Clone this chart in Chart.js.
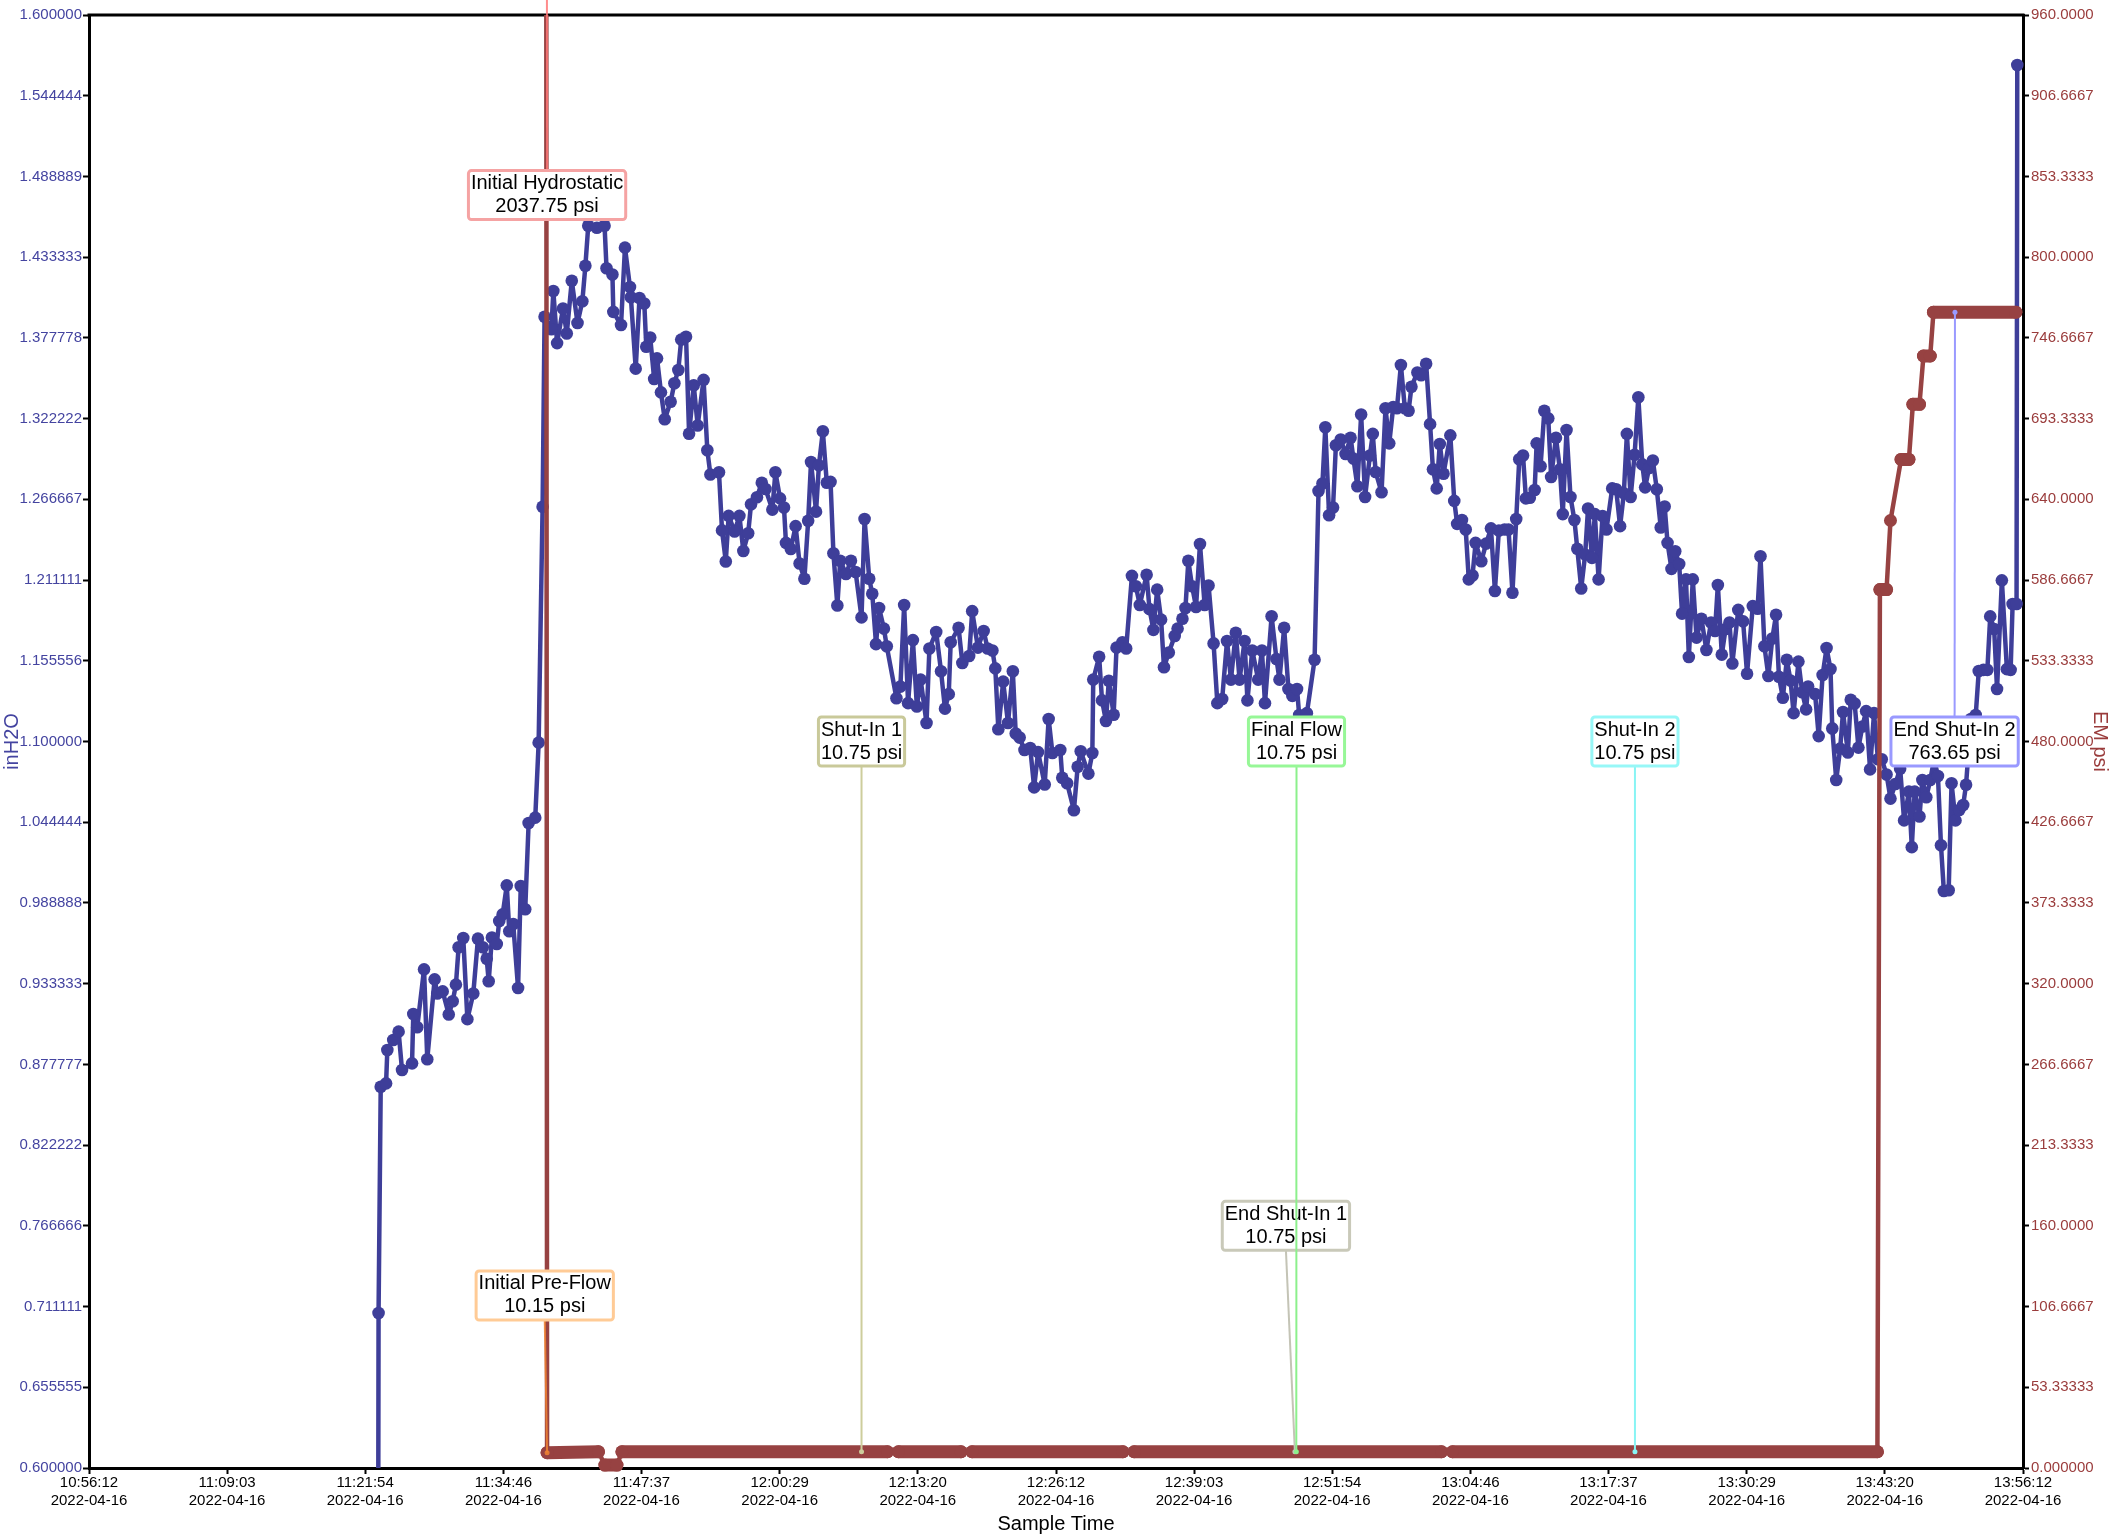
<!DOCTYPE html>
<html>
<head>
<meta charset="utf-8">
<title>Sample Time</title>
<script src="https://cdn.jsdelivr.net/npm/chart.js@4.4.1/dist/chart.umd.min.js"></script>
<style>
  html, body { margin: 0; padding: 0; background: #fff; }
  #wrap { width: 2112px; height: 1536px; }
</style>
</head>
<body>
<div id="wrap"><canvas id="chart"></canvas></div>
<script>
// x values are seconds after the first tick (10:56:12)
var startClock = "10:56:12";
var dateText = "2022-04-16";
var timeTicks = ["10:56:12", "11:09:03", "11:21:54", "11:34:46", "11:47:37", "12:00:29", "12:13:20", "12:26:12",
                 "12:39:03", "12:51:54", "13:04:46", "13:17:37", "13:30:29", "13:43:20", "13:56:12"];
var inH2OTicks = ["0.600000", "0.655555", "0.711111", "0.766666", "0.822222", "0.877777", "0.933333", "0.988888",
                  "1.044444", "1.100000", "1.155556", "1.211111", "1.266667", "1.322222", "1.377778", "1.433333",
                  "1.488889", "1.544444", "1.600000"];
var psiTicks = ["0.000000", "53.33333", "106.6667", "160.0000", "213.3333", "266.6667", "320.0000", "373.3333",
                "426.6667", "480.0000", "533.3333", "586.6667", "640.0000", "693.3333", "746.6667", "800.0000",
                "853.3333", "906.6667", "960.0000"];

// gauge reading, inH2O (left axis)
var gaugeSec = [
  1608, 1617, 1629, 1659, 1666, 1699, 1729, 1748, 1804, 1811,
  1833, 1871, 1889, 1930, 1945, 1975, 2009, 2031, 2049, 2064,
  2090, 2113, 2146, 2172, 2199, 2221, 2232, 2250, 2277, 2291,
  2310, 2333, 2347, 2369, 2396, 2411, 2436, 2455, 2492, 2511,
  2533, 2544,
  2582, 2593, 2614, 2647, 2668, 2696, 2728, 2755, 2772, 2788,
  2836, 2879, 2890, 2923, 2928, 2971, 2993, 3021, 3026, 3053,
  3074, 3101, 3112, 3134, 3156, 3172, 3194, 3215, 3248, 3269,
  3291, 3307, 3334, 3351, 3377, 3399, 3432, 3453, 3470, 3518,
  3535, 3556, 3572, 3605, 3632, 3654, 3681, 3697, 3730, 3757,
  3778, 3816, 3833, 3859, 3881, 3892, 3919, 3946, 3968, 3995,
  4016, 4032, 4060, 4076, 4098, 4120, 4141, 4157, 4179, 4195,
  4227, 4255, 4281, 4314, 4331, 4357, 4374, 4395, 4412, 4439,
  4455, 4509, 4531, 4552, 4574, 4601, 4623, 4644, 4677, 4693,
  4731, 4758, 4780, 4801, 4812, 4856, 4877, 4915, 4932, 4964,
  4996, 5018, 5045, 5061, 5078, 5105, 5132, 5159, 5175, 5197,
  5224, 5256, 5278, 5300, 5337, 5359, 5380, 5424, 5435, 5462,
  5500, 5521, 5538, 5581, 5603, 5608, 5641, 5657, 5679, 5695,
  5722, 5738, 5771, 5792, 5824, 5846, 5868, 5906, 5922, 5944,
  5965, 5987, 6003, 6030, 6063, 6079, 6106, 6123, 6139, 6160,
  6182, 6204, 6230, 6252, 6280, 6301, 6328, 6355, 6377, 6404,
  6425, 6453, 6469, 6496, 6529, 6550, 6567, 6604, 6631, 6648,
  6674, 6698, 6720, 6746, 6758, 6801, 6844, 6866, 6888, 6904,
  6925, 6947, 6963, 6990, 7017, 7045, 7061, 7083, 7104, 7126,
  7153, 7169, 7185, 7218, 7240, 7261, 7283, 7304, 7326, 7348,
  7369, 7385, 7418, 7439, 7467, 7489, 7505, 7526, 7543, 7564,
  7602, 7624, 7640, 7667, 7688, 7705, 7726, 7743, 7775, 7802,
  7829, 7851, 7873, 7905, 7927, 7949, 7970, 7987, 8008, 8024,
  8046, 8073, 8084, 8106, 8127, 8149, 8165, 8192, 8214, 8230,
  8251, 8273, 8295, 8311, 8333, 8355, 8371, 8393, 8409, 8430,
  8452, 8474, 8506, 8528, 8550, 8571, 8588, 8609, 8631, 8652,
  8674, 8690, 8712, 8733, 8755, 8777, 8799, 8815, 8837, 8858,
  8880, 8896, 8918, 8934, 8956, 8977, 9004, 9032, 9058, 9080,
  9096, 9118, 9139, 9161, 9177, 9210, 9237, 9259, 9291, 9318,
  9334, 9356, 9378, 9400, 9421, 9437, 9459, 9481, 9502, 9519,
  9546, 9567, 9589, 9600, 9639, 9659, 9681, 9703, 9725, 9735,
  9757, 9779, 9795, 9822, 9838, 9860, 9881, 9903, 9924, 9946,
  9968, 9990, 10011, 10038, 10060, 10087, 10114, 10136, 10163, 10179,
  10195, 10222, 10238, 10260, 10282, 10304, 10325, 10342, 10358, 10385,
  10401, 10423, 10444, 10466, 10482, 10509, 10536, 10553, 10579, 10601,
  10617, 10639, 10655, 10682, 10710, 10731, 10742, 10764, 10768
];
var gaugeInH2O = [
  0.0, 0.7067, 0.8624, 0.8647, 0.8877, 0.8946, 0.9003, 0.8739, 0.8785, 0.9125,
  0.9033, 0.9432, 0.8813, 0.9363, 0.9266, 0.9280, 0.9121, 0.9212, 0.9327, 0.9584,
  0.9648, 0.9089, 0.9266, 0.9643, 0.9584, 0.9505, 0.9350, 0.9651, 0.9606, 0.9765,
  0.9810, 1.0010, 0.9694, 0.9744, 0.9303, 1.0005, 0.9845, 1.0439, 1.0476, 1.0992,
  1.2616, 1.3923,
  1.3837, 1.4100, 1.3742, 1.3980, 1.3808, 1.4171, 1.3880, 1.4030, 1.4274, 1.4550,
  1.4536, 1.4550, 1.4257, 1.4214, 1.3957, 1.3866, 1.4399, 1.4128, 1.4057, 1.3566,
  1.4052, 1.4014, 1.3717, 1.3780, 1.3495, 1.3637, 1.3403, 1.3218, 1.3338, 1.3466,
  1.3557, 1.3766, 1.3786, 1.3118, 1.3452, 1.3175, 1.3489, 1.3004, 1.2838, 1.2853,
  1.2453, 1.2239, 1.2553, 1.2445, 1.2553, 1.2311, 1.2433, 1.2633, 1.2681, 1.2781,
  1.2738, 1.2596, 1.2853, 1.2673, 1.2610, 1.2367, 1.2325, 1.2482, 1.2225, 1.2120,
  1.2519, 1.2924, 1.2582, 1.2901, 1.3135, 1.2781, 1.2787, 1.2296, 1.1936, 1.2244,
  1.2153, 1.2244, 1.2167, 1.1854, 1.2531, 1.2120, 1.2017, 1.1670, 1.1919, 1.1777,
  1.1655, 1.1298, 1.1378, 1.1939, 1.1264, 1.1698, 1.1241, 1.1426, 1.1127, 1.1640,
  1.1754, 1.1483, 1.1226, 1.1326, 1.1683, 1.1783, 1.1540, 1.1588, 1.1897, 1.1646,
  1.1760, 1.1640, 1.1626, 1.1503, 1.1084, 1.1412, 1.1127, 1.1483, 1.1055, 1.1027,
  1.0941, 1.0955, 1.0684, 1.0927, 1.0704, 1.1155, 1.0921, 1.0941, 1.0750, 1.0713,
  1.0527, 1.0826, 1.0933, 1.0779, 1.0921, 1.1426, 1.1583, 1.1283, 1.1141, 1.1418,
  1.1184, 1.1646, 1.1683, 1.1640, 1.2140, 1.2068, 1.1939, 1.2148, 1.1911, 1.1768,
  1.2045, 1.1839, 1.1511, 1.1612, 1.1726, 1.1777, 1.1845, 1.1919, 1.2244, 1.2068,
  1.1926, 1.2359, 1.1939, 1.2074, 1.1675, 1.1264, 1.1293, 1.1692, 1.1426, 1.1748,
  1.1426, 1.1692, 1.1283, 1.1626, 1.1426, 1.1626, 1.1264, 1.1862, 1.1568, 1.1426,
  1.1783, 1.1361, 1.1314, 1.1361, 1.1182, 1.1195, 1.1563, 1.2724, 1.2776, 1.3163,
  1.2557, 1.2610, 1.3039, 1.3078, 1.2979, 1.3091, 1.2947, 1.2757, 1.3250, 1.2683,
  1.2968, 1.3117, 1.2855, 1.2715, 1.3294, 1.3052, 1.3302, 1.3294, 1.3591, 1.3294,
  1.3276, 1.3441, 1.3540, 1.3521, 1.3600, 1.3184, 1.2873, 1.2742, 1.3047, 1.2843,
  1.3107, 1.2656, 1.2498, 1.2524, 1.2459, 1.2116, 1.2142, 1.2367, 1.2241, 1.2362,
  1.2467, 1.2036, 1.2451, 1.2459, 1.2459, 1.2024, 1.2531, 1.2943, 1.2968, 1.2673,
  1.2678, 1.2731, 1.3052, 1.2894, 1.3276, 1.3224, 1.2820, 1.3091, 1.2873, 1.2565,
  1.3144, 1.2683, 1.2524, 1.2327, 1.2053, 1.2287, 1.2604, 1.2264, 1.2565, 1.2116,
  1.2552, 1.2459, 1.2742, 1.2736, 1.2482, 1.2709, 1.3117, 1.2683, 1.2974, 1.3369,
  1.2907, 1.2749, 1.2882, 1.2934, 1.2736, 1.2473, 1.2617, 1.2367, 1.2188, 1.2309,
  1.2222, 1.1880, 1.2116, 1.1582, 1.2116, 1.1715, 1.1845, 1.1630, 1.1819, 1.1761,
  1.2077, 1.1598, 1.1774, 1.1819, 1.1537, 1.1906, 1.1827, 1.1466, 1.1932, 1.1914,
  1.2275, 1.1656, 1.1451, 1.1709, 1.1872, 1.1446, 1.1301, 1.1563, 1.1419, 1.1195,
  1.1550, 1.1339, 1.1221, 1.1379, 1.1327, 1.1037, 1.1458, 1.1643, 1.1499, 1.1090,
  1.0735, 1.0951, 1.1203, 1.0924, 1.1287, 1.1261, 1.0958, 1.1103, 1.1209, 1.0808,
  1.1195, 1.0878, 1.0878, 1.0773, 1.0607, 1.0708, 1.0813, 1.0457, 1.0655, 1.0273,
  1.0655, 1.0484, 1.0735, 1.0616, 1.0735, 1.0878, 1.0763, 1.0286, 0.9971, 0.9976,
  1.0713, 1.0457, 1.0529, 1.0563, 1.0702, 1.1155, 1.1182, 1.1485, 1.1493, 1.1493,
  1.1861, 1.1774, 1.1361, 1.2109, 1.1498, 1.1493, 1.1946, 1.1946, 1.5656
];

// EM pressure, psi (right axis); null = break in the record
var emSec = [2549, 2558, 2845, 2881, 2948, 2976, 4459, 4490, 4520, 4870,
             4900, 4931, 5774, 5805, 5836, 7553, 7583, 7614, 9987, 10001,
             10038, 10060, 10119, 10163, 10185, 10222, 10244, 10282, 10300, 10760];
var emPsi = [2037.75, 10.15, 10.75, 1.9, 1.9, 10.75, 10.75, null, 10.75, 10.75,
             null, 10.75, 10.75, null, 10.75, 10.75, null, 10.75, 10.75, 580.4,
             580.4, 626.0, 666.4, 666.4, 702.8, 702.8, 734.7, 734.7, 763.65, 763.65];

var eventNames = ["Initial Hydrostatic", "Initial Pre-Flow", "Shut-In 1", "End Shut-In 1", "Final Flow", "Shut-In 2", "End Shut-In 2"];
var eventClock = ["11:38:41", "11:38:50", "12:08:06", "12:48:26", "12:48:34", "13:20:05", "13:49:52"];
var eventPsi = [2037.75, 10.15, 10.75, 10.75, 10.75, 10.75, 763.65];

// where each callout box sits (seconds, psi) and its colours
var eventStyle = [
  { at: [2558, 841], box: "#f5a3a3", line: "rgba(255,120,120,0.85)" },
  { at: [2545, 114], box: "#ffcb96", line: "rgba(240,130,50,0.85)" },
  { at: [4314, 480], box: "#c9c99a", line: "#cdcd9c" },
  { at: [6684, 160], box: "#c9c9b9", line: "#c4c4b6" },
  { at: [6743, 480], box: "#97f797", line: "#8cf08c" },
  { at: [8633, 480], box: "#97f7f7", line: "#88f4f4" },
  { at: [10418, 480], box: "#9999ff", line: "#9a9aff" }
];

var fontFamily = '"Liberation Sans", Arial, sans-serif';
var blue = "#3e3e99";
var blueText = "#4444a0";
var red = "#974242";
var redText = "#9a3c3c";

function clockToSec(s) {
  var p = s.split(":");
  var q = startClock.split(":");
  return (+p[0] * 3600 + +p[1] * 60 + +p[2]) - (+q[0] * 3600 + +q[1] * 60 + +q[2]);
}

function toPoints(xs, ys) {
  return xs.map(function (x, i) { return { x: x, y: ys[i] }; });
}

function axisGrid() {
  return { display: true, drawOnChartArea: false, drawTicks: true, tickLength: 6, tickWidth: 2, tickColor: "#000" };
}

var framePlugin = {
  id: "frame",
  beforeDatasetsDraw: function (chart) {
    var a = chart.chartArea, c = chart.ctx;
    c.save();
    c.strokeStyle = "#000";
    c.lineWidth = 3;
    c.beginPath();
    c.moveTo(a.left - 1.5, a.top);
    c.lineTo(a.right + 1.5, a.top);
    c.stroke();
    c.restore();
  }
};

var eventPlugin = {
  id: "events",
  afterDatasetsDraw: function (chart) {
    var c = chart.ctx, xs = chart.scales.x, ys = chart.scales.yPsi;
    c.save();
    c.font = "20px " + fontFamily;
    c.textAlign = "center";
    c.textBaseline = "middle";
    eventNames.forEach(function (name, i) {
      var st = eventStyle[i];
      var px = xs.getPixelForValue(clockToSec(eventClock[i]));
      var py = ys.getPixelForValue(eventPsi[i]);
      var lx = xs.getPixelForValue(st.at[0]);
      var ly = ys.getPixelForValue(st.at[1]);
      var lines = [name, eventPsi[i].toFixed(2) + " psi"];
      var w = Math.max(c.measureText(lines[0]).width, c.measureText(lines[1]).width) + 5;
      var h = 49;
      var top = ly - h / 2, bot = ly + h / 2;

      c.strokeStyle = st.line;
      c.lineWidth = 2;
      c.beginPath();
      c.moveTo(lx, py > ly ? bot : top);
      c.lineTo(px, py);
      c.stroke();
      c.fillStyle = st.line;
      c.beginPath();
      c.arc(px, py, 2.5, 0, Math.PI * 2);
      c.fill();

      c.fillStyle = "#fff";
      c.strokeStyle = st.box;
      c.lineWidth = 3;
      c.beginPath();
      c.roundRect(lx - w / 2, top, w, h, 3);
      c.fill();
      c.stroke();

      c.fillStyle = "#000";
      c.fillText(lines[0], lx, ly - 11.5);
      c.fillText(lines[1], lx, ly + 11.5);
    });
    c.restore();
  }
};

Chart.defaults.font.family = fontFamily;

var ctx = document.getElementById("chart").getContext("2d");
var chart = new Chart(ctx, {
  type: "line",
  data: {
    datasets: [
      {
        label: "EM psi",
        data: toPoints(emSec, emPsi),
        yAxisID: "yPsi",
        borderColor: red,
        backgroundColor: red,
        borderWidth: 4.5,
        borderCapStyle: "round",
        borderJoinStyle: "round",
        pointRadius: 6.5,
        pointBorderWidth: 0,
        pointBackgroundColor: red,
        tension: 0,
        spanGaps: false,
        clip: { left: 10, right: 10, top: 0, bottom: 10 },
        segment: {
          borderWidth: function (s) { return Math.abs(s.p0.parsed.y - s.p1.parsed.y) < 1 ? 13 : 4.5; }
        }
      },
      {
        label: "inH2O",
        data: toPoints(gaugeSec, gaugeInH2O),
        yAxisID: "yIn",
        borderColor: blue,
        backgroundColor: blue,
        borderWidth: 4.5,
        borderJoinStyle: "round",
        pointRadius: 6.3,
        pointBorderWidth: 0,
        pointBackgroundColor: blue,
        tension: 0,
        clip: { left: 10, right: 10, top: 10, bottom: 0 }
      }
    ]
  },
  options: {
    responsive: true,
    maintainAspectRatio: false,
    animation: false,
    events: [],
    layout: { padding: { top: 15, left: 0, right: 0, bottom: 0 } },
    plugins: {
      legend: { display: false },
      tooltip: { enabled: false }
    },
    scales: {
      x: {
        type: "linear",
        position: "bottom",
        min: 0,
        max: clockToSec(timeTicks[timeTicks.length - 1]),
        grid: axisGrid(),
        border: { display: true, color: "#000", width: 3 },
        afterBuildTicks: function (s) {
          s.ticks = timeTicks.map(function (t) { return { value: clockToSec(t) }; });
        },
        afterFit: function (s) { s.height = 68; },
        ticks: {
          autoSkip: false,
          maxRotation: 0,
          minRotation: 0,
          padding: 0,
          color: "#000",
          font: { size: 15 },
          callback: function (v, i) { return [timeTicks[i], dateText]; }
        },
        title: { display: true, text: "Sample Time", color: "#000", font: { size: 20 }, padding: 0 }
      },
      yIn: {
        type: "linear",
        position: "left",
        min: 0.6,
        max: 1.6,
        grid: axisGrid(),
        border: { display: true, color: "#000", width: 3 },
        afterBuildTicks: function (s) {
          s.ticks = inH2OTicks.map(function (t, i) { return { value: 0.6 + i * (1.0 / (inH2OTicks.length - 1)) }; });
        },
        afterFit: function (s) { s.width = 89; },
        ticks: {
          padding: 1,
          color: blueText,
          font: { size: 15 },
          callback: function (v, i) { return inH2OTicks[i]; }
        },
        title: { display: true, text: "inH2O", color: blueText, font: { size: 20 }, padding: 0 }
      },
      yPsi: {
        type: "linear",
        position: "right",
        min: 0,
        max: 960,
        grid: axisGrid(),
        border: { display: true, color: "#000", width: 3 },
        afterBuildTicks: function (s) {
          s.ticks = psiTicks.map(function (t, i) { return { value: i * (960 / (psiTicks.length - 1)) }; });
        },
        afterFit: function (s) { s.width = 89; },
        ticks: {
          padding: 2,
          color: redText,
          font: { size: 15 },
          callback: function (v, i) { return psiTicks[i]; }
        },
        title: { display: true, text: "EM psi", color: redText, font: { size: 20 }, padding: 0 }
      }
    }
  },
  plugins: [framePlugin, eventPlugin]
});
</script>
</body>
</html>
